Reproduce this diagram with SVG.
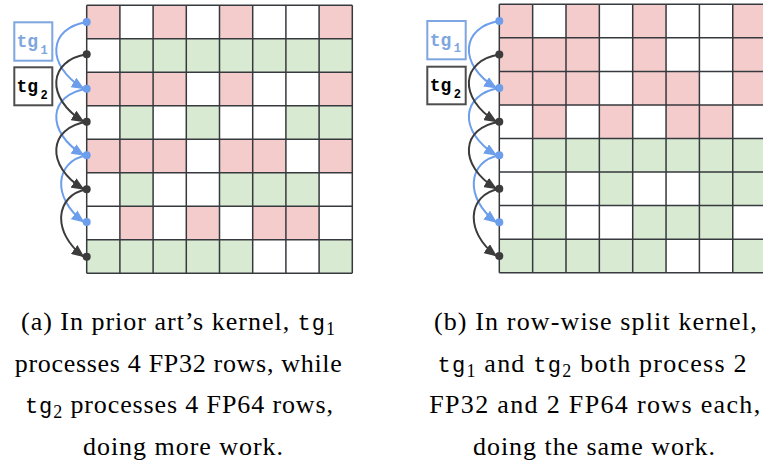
<svg xmlns="http://www.w3.org/2000/svg" width="763" height="471" viewBox="0 0 763 471">
<style>
.p{fill:#f4cccc}
.g{fill:#d9ead3}
.grid{fill:none;stroke:#36393d;stroke-width:1.5}
.ab{fill:none;stroke:#6d9eeb;stroke-width:2;marker-end:url(#mb)}
.ak{fill:none;stroke:#3c3c3c;stroke-width:2;marker-end:url(#mk)}
.db{fill:#6d9eeb}
.dk{fill:#3c3c3c}
.bx1{fill:#fff;stroke:#7ea6e0;stroke-width:2}
.bx2{fill:#fff;stroke:#4d4d4d;stroke-width:2}
.lt{font-family:"Liberation Mono","DejaVu Sans Mono",monospace;font-weight:bold;font-size:18px}
.ls{font-family:"Liberation Mono","DejaVu Sans Mono",monospace;font-weight:bold;font-size:12px}
.cap{font-family:"Liberation Serif","DejaVu Serif",serif;font-size:26px;fill:#000;text-anchor:middle}
.tt{font-family:"Liberation Mono","DejaVu Sans Mono",monospace;font-size:22px}
.sub{font-size:18px}
</style>
<defs>
<marker id="mb" viewBox="0 0 13 11" refX="12" refY="5.5" markerWidth="13" markerHeight="11" markerUnits="userSpaceOnUse" orient="auto"><path d="M0,0 L13,5.5 L0,11 z" fill="#6d9eeb"/></marker>
<marker id="mk" viewBox="0 0 13 11" refX="12" refY="5.5" markerWidth="13" markerHeight="11" markerUnits="userSpaceOnUse" orient="auto"><path d="M0,0 L13,5.5 L0,11 z" fill="#3c3c3c"/></marker>
</defs>
<rect width="763" height="471" fill="#fff"/>

<g id="grid-a">
<rect class="p" x="86.7" y="5.3" width="33.2" height="33.5"/>
<rect class="p" x="153.1" y="5.3" width="33.2" height="33.5"/>
<rect class="p" x="219.5" y="5.3" width="33.2" height="33.5"/>
<rect class="p" x="319.1" y="5.3" width="33.2" height="33.5"/>
<rect class="g" x="119.9" y="38.8" width="232.4" height="33.5"/>
<rect class="p" x="86.7" y="72.3" width="99.6" height="33.5"/>
<rect class="p" x="219.5" y="72.3" width="33.2" height="33.5"/>
<rect class="p" x="319.1" y="72.3" width="33.2" height="33.5"/>
<rect class="g" x="119.9" y="105.8" width="33.2" height="33.5"/>
<rect class="g" x="186.3" y="105.8" width="33.2" height="33.5"/>
<rect class="g" x="285.9" y="105.8" width="66.4" height="33.5"/>
<rect class="p" x="86.7" y="139.3" width="99.6" height="33.5"/>
<rect class="p" x="219.5" y="139.3" width="66.4" height="33.5"/>
<rect class="p" x="319.1" y="139.3" width="33.2" height="33.5"/>
<rect class="g" x="119.9" y="172.8" width="33.2" height="33.5"/>
<rect class="g" x="219.5" y="172.8" width="99.6" height="33.5"/>
<rect class="p" x="119.9" y="206.3" width="33.2" height="33.5"/>
<rect class="p" x="186.3" y="206.3" width="33.2" height="33.5"/>
<rect class="p" x="252.7" y="206.3" width="66.4" height="33.5"/>
<rect class="g" x="86.7" y="239.8" width="166" height="33.5"/>
<rect class="g" x="319.1" y="239.8" width="33.2" height="33.5"/>
<path class="grid" d="M86.7,5.3V273.3M119.9,5.3V273.3M153.1,5.3V273.3M186.3,5.3V273.3M219.5,5.3V273.3M252.7,5.3V273.3M285.9,5.3V273.3M319.1,5.3V273.3M352.3,5.3V273.3M86.7,5.3H352.3M86.7,38.8H352.3M86.7,72.3H352.3M86.7,105.8H352.3M86.7,139.3H352.3M86.7,172.8H352.3M86.7,206.3H352.3M86.7,239.8H352.3M86.7,273.3H352.3"/>
</g>

<g id="grid-b">
<rect class="p" x="499.3" y="4.3" width="33.35" height="33.55"/>
<rect class="p" x="566" y="4.3" width="33.35" height="33.55"/>
<rect class="p" x="632.7" y="4.3" width="33.35" height="33.55"/>
<rect class="p" x="732.75" y="4.3" width="33.35" height="33.55"/>
<rect class="p" x="499.3" y="37.85" width="100.05" height="33.55"/>
<rect class="p" x="632.7" y="37.85" width="33.35" height="33.55"/>
<rect class="p" x="732.75" y="37.85" width="33.35" height="33.55"/>
<rect class="p" x="499.3" y="71.4" width="100.05" height="33.55"/>
<rect class="p" x="632.7" y="71.4" width="66.7" height="33.55"/>
<rect class="p" x="732.75" y="71.4" width="33.35" height="33.55"/>
<rect class="p" x="532.65" y="104.95" width="33.35" height="33.55"/>
<rect class="p" x="599.35" y="104.95" width="33.35" height="33.55"/>
<rect class="p" x="666.05" y="104.95" width="66.7" height="33.55"/>
<rect class="g" x="532.65" y="138.5" width="233.45" height="33.55"/>
<rect class="g" x="532.65" y="172.05" width="33.35" height="33.55"/>
<rect class="g" x="599.35" y="172.05" width="33.35" height="33.55"/>
<rect class="g" x="699.4" y="172.05" width="66.7" height="33.55"/>
<rect class="g" x="532.65" y="205.6" width="33.35" height="33.55"/>
<rect class="g" x="632.7" y="205.6" width="100.05" height="33.55"/>
<rect class="g" x="499.3" y="239.15" width="166.75" height="33.55"/>
<rect class="g" x="732.75" y="239.15" width="33.35" height="33.55"/>
<path class="grid" d="M499.3,4.3V272.7M532.65,4.3V272.7M566,4.3V272.7M599.35,4.3V272.7M632.7,4.3V272.7M666.05,4.3V272.7M699.4,4.3V272.7M732.75,4.3V272.7M499.3,4.3H766M499.3,37.85H766M499.3,71.4H766M499.3,104.95H766M499.3,138.5H766M499.3,172.05H766M499.3,205.6H766M499.3,239.15H766M499.3,272.7H766"/>
</g>

<g id="connectors">
<path class="ab" d="M86.7,22 C48.7,28 44.7,64.7 83.7,88.7"/>
<path class="ab" d="M86.7,88.7 C48.7,94.7 44.7,131.3 83.7,155.3"/>
<path class="ab" d="M86.7,155.3 C54.7,161.3 51.7,198 83.7,222"/>
<path class="ak" d="M86.7,54.3 C48.7,60.3 44.7,97.7 83.7,121.7"/>
<path class="ak" d="M86.7,121.7 C48.7,127.7 44.7,165.3 83.7,189.3"/>
<path class="ak" d="M86.7,189.3 C54.7,195.3 51.7,232.7 83.7,256.7"/>
<path class="ab" d="M499.3,21.1 C461.3,27.1 457.3,64.1 496.3,88.1"/>
<path class="ab" d="M499.3,88.1 C461.3,94.1 457.3,131.2 496.3,155.2"/>
<path class="ab" d="M499.3,155.2 C467.3,161.2 464.3,198.3 496.3,222.3"/>
<path class="ak" d="M499.3,54.6 C461.3,60.6 457.3,97.7 496.3,121.7"/>
<path class="ak" d="M499.3,121.7 C461.3,127.7 457.3,164.8 496.3,188.8"/>
<path class="ak" d="M499.3,188.8 C467.3,194.8 464.3,231.9 496.3,255.9"/>
</g>

<g id="dots-a">
<circle class="db" cx="86.7" cy="22" r="4"/>
<circle class="db" cx="86.7" cy="88.7" r="4"/>
<circle class="db" cx="86.7" cy="155.3" r="4"/>
<circle class="db" cx="86.7" cy="222" r="4"/>
<circle class="dk" cx="86.7" cy="54.3" r="4"/>
<circle class="dk" cx="86.7" cy="121.7" r="4"/>
<circle class="dk" cx="86.7" cy="189.3" r="4"/>
<circle class="dk" cx="86.7" cy="256.7" r="4"/>
</g>
<g id="dots-b">
<circle class="db" cx="499.3" cy="21.1" r="4"/>
<circle class="db" cx="499.3" cy="88.1" r="4"/>
<circle class="db" cx="499.3" cy="155.2" r="4"/>
<circle class="db" cx="499.3" cy="222.3" r="4"/>
<circle class="dk" cx="499.3" cy="54.6" r="4"/>
<circle class="dk" cx="499.3" cy="121.7" r="4"/>
<circle class="dk" cx="499.3" cy="188.8" r="4"/>
<circle class="dk" cx="499.3" cy="255.9" r="4"/>
</g>

<g id="label-a-tg1">
<rect class="bx1" x="14.3" y="22.3" width="38" height="38.4"/>
<text class="lt" x="16.5" y="47" fill="#7ea6e0">tg</text>
<text class="ls" x="40.5" y="53.5" fill="#7ea6e0">1</text>
</g>
<g id="label-a-tg2">
<rect class="bx2" x="14.3" y="67.3" width="38" height="38"/>
<text class="lt" x="16.5" y="92" fill="#000">tg</text>
<text class="ls" x="40.5" y="99" fill="#000">2</text>
</g>
<g id="label-b-tg1">
<rect class="bx1" x="427.3" y="21" width="38.4" height="38.3"/>
<text class="lt" x="429.8" y="45.7" fill="#7ea6e0">tg</text>
<text class="ls" x="453.8" y="52.2" fill="#7ea6e0">1</text>
</g>
<g id="label-b-tg2">
<rect class="bx2" x="427.3" y="66.7" width="38.4" height="37.6"/>
<text class="lt" x="429.8" y="91.3" fill="#000">tg</text>
<text class="ls" x="453.8" y="98.3" fill="#000">2</text>
</g>

<g id="caption-a">
<text class="cap" x="178" y="330" textLength="314" lengthAdjust="spacing">(a) In prior art’s kernel, <tspan class="tt">tg</tspan><tspan class="sub" dy="5">1</tspan></text>
<text class="cap" x="178.3" y="371.5" textLength="327" lengthAdjust="spacing">processes 4 FP32 rows, while</text>
<text class="cap" x="179" y="413" textLength="308" lengthAdjust="spacing"><tspan class="tt">tg</tspan><tspan class="sub" dy="5">2</tspan><tspan dy="-5"> processes 4 FP64 rows,</tspan></text>
<text class="cap" x="183" y="455" textLength="200" lengthAdjust="spacing">doing more work.</text>
</g>
<g id="caption-b">
<text class="cap" x="595.3" y="330" textLength="322.7" lengthAdjust="spacing">(b) In row-wise split kernel,</text>
<text class="cap" x="592" y="371.5" textLength="309" lengthAdjust="spacing"><tspan class="tt">tg</tspan><tspan class="sub" dy="5">1</tspan><tspan dy="-5"> and </tspan><tspan class="tt">tg</tspan><tspan class="sub" dy="5">2</tspan><tspan dy="-5"> both process 2</tspan></text>
<text class="cap" x="594.7" y="413" textLength="331" lengthAdjust="spacing">FP32 and 2 FP64 rows each,</text>
<text class="cap" x="594" y="455" textLength="242" lengthAdjust="spacing">doing the same work.</text>
</g>
</svg>
